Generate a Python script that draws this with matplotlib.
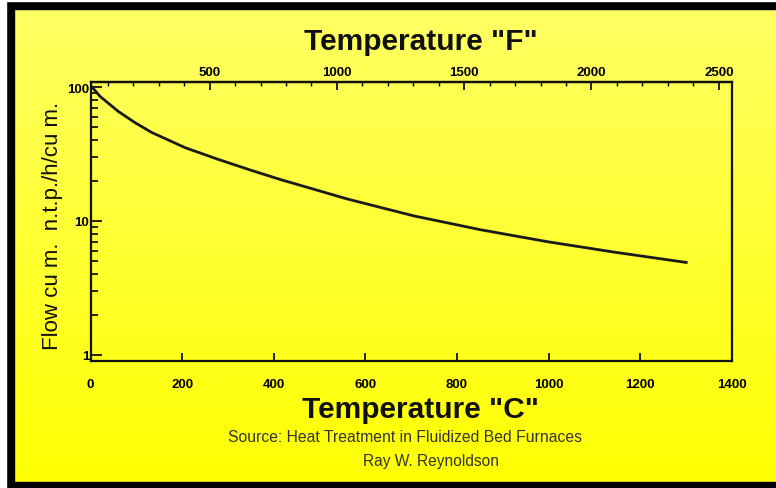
#!/usr/bin/env python3
import numpy as np
import matplotlib
matplotlib.use("Agg")
import matplotlib.pyplot as plt
from matplotlib.patches import Rectangle
from matplotlib.ticker import FixedLocator, NullFormatter

# values
temp_c = [0, 21, 61, 97, 134, 207, 279, 352, 414, 560, 706, 851, 997, 1143, 1300]
flow = [103, 85, 65.6, 54.2, 45.7, 35.2, 28.8, 23.8, 20.4, 14.6, 10.9, 8.6, 7.0, 5.85, 4.9]

x_ticks_c = [0, 200, 400, 600, 800, 1000, 1200, 1400]
x_ticks_f = [500, 1000, 1500, 2000, 2500]
y_ticks = [1, 10, 100]
y_labels = ["1", "10", "100"]

plt.rcParams["font.family"] = ["Liberation Sans", "DejaVu Sans"]

W, H = 776, 489
fig = plt.figure(figsize=(W / 100, H / 100), dpi=100)

# yellow gradient background
bg = fig.add_axes([0, 0, 1, 1], zorder=-10)
grad = np.linspace(0, 1, 256).reshape(-1, 1)
top_col = np.array([1.0, 1.0, 0.40])
bot_col = np.array([1.0, 1.0, 0.0])
img = top_col[None, None, :] * (1 - grad[:, :, None]) + bot_col[None, None, :] * grad[:, :, None]
bg.imshow(img, aspect="auto", extent=[0, 1, 0, 1])
bg.set_xlim(0, 1)
bg.set_ylim(0, 1)
bg.axis("off")

# black frame of the scan
bg.add_patch(Rectangle((6 / W, 0), 8 / W, 1 - 2 / H, transform=bg.transAxes, color="black"))
bg.add_patch(Rectangle((6 / W, 1 - 10 / H), 1, 8 / H, transform=bg.transAxes, color="black"))
bg.add_patch(Rectangle((6 / W, 0), 1, 6 / H, transform=bg.transAxes, color="black"))
bg.add_patch(Rectangle((0, 0), 6 / W, 1, transform=bg.transAxes, color="white"))
bg.add_patch(Rectangle((0, 1 - 2 / H), 1, 2 / H, transform=bg.transAxes, color="white"))

ax = fig.add_axes([90.5 / W, 1 - 362 / H, (732 - 90.5) / W, (362 - 83) / H])
ax.patch.set_alpha(0)
ax.semilogy(temp_c, flow, color="#1a1a1a", lw=2, solid_joinstyle="round")
ax.set_xlim(0, 1400)
ax.set_ylim(0.90, 109)

for s in ax.spines.values():
    s.set_linewidth(1.6)
    s.set_color("#111111")

ax.set_xticks(x_ticks_c)
ax.set_xticklabels([str(v) for v in x_ticks_c], fontsize=9.5, fontweight="bold")
ax.tick_params(axis="x", direction="in", length=6, width=1.2, pad=12)
ax.yaxis.set_major_locator(FixedLocator(y_ticks))
ax.set_yticklabels(y_labels, fontsize=9.5, fontweight="bold")
ax.yaxis.set_minor_locator(FixedLocator([m * d for d in (1, 10) for m in range(2, 10)]))
ax.yaxis.set_minor_formatter(NullFormatter())
ax.tick_params(axis="y", which="major", direction="in", length=8, width=1.2, pad=1)
ax.tick_params(axis="y", which="minor", direction="in", length=5, width=1.2)

top = ax.secondary_xaxis("top", functions=(lambda c: c * 9 / 5 + 32, lambda f: (f - 32) * 5 / 9))
top.set_xticks(x_ticks_f)
top.set_xticklabels([str(v) for v in x_ticks_f], fontsize=9.5, fontweight="bold")
top.xaxis.set_minor_locator(FixedLocator(list(range(100, 2600, 100))))
top.tick_params(axis="x", which="major", direction="in", length=6, width=1.2, pad=3)
top.tick_params(axis="x", which="minor", direction="in", length=3, width=1.0)
top.spines["top"].set_linewidth(1.6)

fig.text(421 / W, 1 - 42 / H, 'Temperature "F"', ha="center", va="center",
         fontsize=21.5, fontweight="bold", color="#111111")
fig.text(421 / W, 1 - 410 / H, 'Temperature "C"', ha="center", va="center",
         fontsize=21.5, fontweight="bold", color="#111111")
fig.text(53 / W, 1 - 226 / H, "Flow cu m.  n.t.p./h/cu m.", ha="center", va="center",
         rotation=90, fontsize=16, color="#111111")
fig.text(405 / W, 1 - 438 / H, "Source: Heat Treatment in Fluidized Bed Furnaces",
         ha="center", va="center", fontsize=11.3, color="#333333")
fig.text(431 / W, 1 - 462 / H, "Ray W. Reynoldson", ha="center", va="center",
         fontsize=11.2, color="#333333")

fig.savefig("out.png", dpi=100)
